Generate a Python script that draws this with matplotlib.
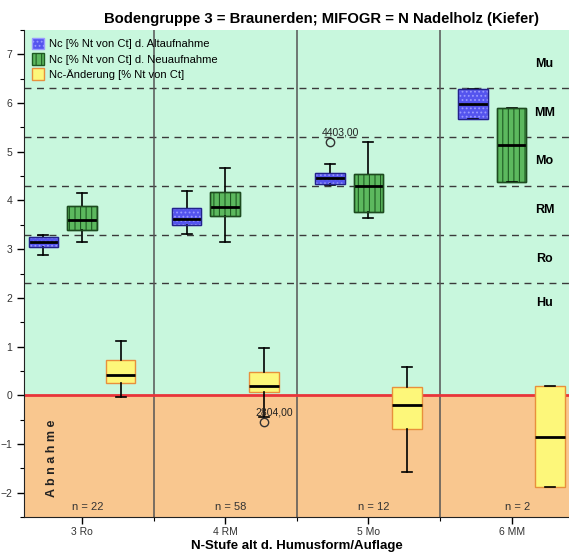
"""
Boxplots der Nc-Werte (Alt-/Neuaufnahme) und der Nc-Änderung
je N-Stufe der Humusform/Auflage, Bodengruppe 3 (Braunerden), Kiefer.
"""

import matplotlib
matplotlib.use("Agg")
import matplotlib.pyplot as plt
from matplotlib.patches import Patch, Polygon

plt.rcParams["font.family"] = ["Liberation Sans", "DejaVu Sans"]
plt.rcParams["hatch.linewidth"] = 0.8

# ── Daten ─────────────────────────────────────────────────────────────────────
categories = ["3 Ro", "4 RM", "5 Mo", "6 MM"]
n_counts   = [22, 58, 12, 2]

alt_whislo = [2.88, 3.31, 4.31, 5.68]
alt_q1     = [3.05, 3.50, 4.34, 5.68]
alt_med    = [3.15, 3.62, 4.46, 5.98]
alt_q3     = [3.24, 3.84, 4.57, 6.28]
alt_whishi = [3.29, 4.20, 4.74, 6.28]
alt_fliers = [[], [], [5.19], []]

neu_whislo = [3.15, 3.15, 3.63, 4.37]
neu_q1     = [3.40, 3.68, 3.77, 4.37]
neu_med    = [3.60, 3.87, 4.30, 5.13]
neu_q3     = [3.89, 4.17, 4.54, 5.89]
neu_whishi = [4.16, 4.66, 5.20, 5.89]
neu_fliers = [[], [], [], []]

chg_whislo = [-0.04, -0.45, -1.57, -1.88]
chg_q1     = [0.25, 0.06, -0.70, -1.88]
chg_med    = [0.41, 0.20, -0.20, -0.86]
chg_q3     = [0.73, 0.48, 0.16, 0.18]
chg_whishi = [1.12, 0.98, 0.57, 0.18]
chg_fliers = [[], [-0.55], [], []]

# Ausreißer-Beschriftungen: (Reihe, Kategorie, Wert, Text)
outlier_labels = [("alt", 2, 5.19, "4403,00"), ("chg", 1, -0.55, "2804,00")]

zone_names  = ["Mu", "MM", "Mo", "RM", "Ro", "Hu"]
zone_pos    = [6.8, 5.8, 4.8, 3.8, 2.8, 1.9]
zone_bounds = [6.3, 5.3, 4.3, 3.3, 2.3]

TITLE = "Bodengruppe 3 = Braunerden; MIFOGR = N Nadelholz (Kiefer)"
XLAB  = "N-Stufe alt d. Humusform/Auflage"
LEG   = ["Nc [% Nt von Ct] d. Altaufnahme",
         "Nc [% Nt von Ct] d. Neuaufnahme",
         "Nc-Änderung [% Nt von Ct]"]

# ── Stil ─────────────────────────────────────────────────────────────────────
GREEN_BG  = "#c8f7dd"
ORANGE_BG = "#f9c78f"
RED       = "#e8343a"
OFFSET, WIDTH = 0.269, 0.206

series = {
    "alt": dict(lo=alt_whislo, q1=alt_q1, med=alt_med, q3=alt_q3, hi=alt_whishi,
                fl=alt_fliers, off=-OFFSET, face="#5454ee", edge="#22228a",
                hatch="....", hcol="#9a9aff"),
    "neu": dict(lo=neu_whislo, q1=neu_q1, med=neu_med, q3=neu_q3, hi=neu_whishi,
                fl=neu_fliers, off=0.0, face="#5cb85e", edge="#1e4a20",
                hatch="|||", hcol="#1e5a22"),
    "chg": dict(lo=chg_whislo, q1=chg_q1, med=chg_med, q3=chg_q3, hi=chg_whishi,
                fl=chg_fliers, off=OFFSET, face="#fdf77a", edge="#e8903c",
                hatch=None, hcol=None),
}

fig = plt.figure(figsize=(5.69, 5.55), dpi=100)
ax = fig.add_axes([24 / 569, 1 - 517 / 555, 1 - 24 / 569, (517 - 30) / 555])
ax.set_xlim(-0.405, 3.40)
ax.set_ylim(-2.5, 7.5)

# Hintergrund
ax.axhspan(0, 7.5, color=GREEN_BG, zorder=0, lw=0)
ax.axhspan(-2.5, 0, color=ORANGE_BG, zorder=0, lw=0)
for b in zone_bounds:
    ax.axhline(b, color="#3a3a3a", lw=1.0, ls=(0, (5, 4)), zorder=1)
for s in (0.5, 1.5, 2.5):
    ax.axvline(s, color="#555555", lw=1.1, zorder=1)
ax.axhline(0, color=RED, lw=2.0, zorder=2)

# ── Boxplots ─────────────────────────────────────────────────────────────────
for key, d in series.items():
    stats = [dict(whislo=d["lo"][i], q1=d["q1"][i], med=d["med"][i],
                  q3=d["q3"][i], whishi=d["hi"][i], fliers=d["fl"][i])
             for i in range(len(categories))]
    pos = [i + d["off"] for i in range(len(categories))]
    bp = ax.bxp(stats, positions=pos, widths=WIDTH, patch_artist=True,
                capwidths=0.07, manage_ticks=False, zorder=3,
                boxprops=dict(facecolor=d["face"], edgecolor=d["edge"], lw=1.0),
                medianprops=dict(color="black", lw=2.0),
                whiskerprops=dict(color="black", lw=1.2),
                capprops=dict(color="black", lw=1.2),
                flierprops=dict(marker="o", markerfacecolor="none",
                                markeredgecolor="#333333", markersize=6))
    for box in bp["boxes"]:
        if d["hatch"]:
            box.set_hatch(d["hatch"])
            box.set_edgecolor(d["hcol"])
            ax.add_patch(Polygon(box.get_path().vertices, closed=True, fill=False,
                                 edgecolor=d["edge"], lw=1.0, zorder=3.1))

for key, ci, val, txt in outlier_labels:
    x = ci + series[key]["off"] + 0.075
    ax.text(x, val + 0.2, txt, fontsize=7.5, ha="center", va="center",
            color="#222222", zorder=5)

# ── Beschriftungen ──────────────────────────────────────────────────────────
for name, y in zip(zone_names, zone_pos):
    ax.text(3.23, y, name, fontsize=9, fontweight="bold", ha="center",
            va="center", zorder=4)

for i, n in enumerate(n_counts):
    ax.text(i + 0.04, -2.29, f"n = {n}", fontsize=8, ha="center", va="center",
            color="#333333", zorder=4)

ax.text(-0.21, -1.3, "A b n a h m e", rotation=90, fontsize=9,
        fontweight="bold", ha="center", va="center", color="#222222", zorder=4)

ax.set_xticks(range(len(categories)))
ax.set_xticklabels(categories)
ax.set_xticks([0.5, 1.5, 2.5], minor=True)
ax.set_yticks(range(-2, 8))
ax.set_yticks([v + 0.5 for v in range(-3, 8)], minor=True)
ax.tick_params(axis="both", which="major", labelsize=7.5, labelcolor="#333333",
               length=5, width=1.0)
ax.tick_params(axis="x", which="major", pad=2)
ax.tick_params(axis="both", which="minor", length=3, width=0.8)
for side in ("top", "right"):
    ax.spines[side].set_visible(False)
ax.spines["left"].set_color("#222222")
ax.spines["bottom"].set_color("#222222")

fig.text(297 / 569, 1 - 546 / 555, XLAB, fontsize=9.5, fontweight="bold",
         ha="center", va="center")
fig.text(322 / 569, 1 - 19 / 555, TITLE, fontsize=10.7, fontweight="bold",
         ha="center", va="center")

handles = [
    Patch(facecolor="#5454ee", edgecolor="#9a9aff", hatch="....", label=LEG[0]),
    Patch(facecolor="#5cb85e", edgecolor="#1e5a22", hatch="|||", label=LEG[1]),
    Patch(facecolor="#fdf77a", edgecolor="#e8903c", label=LEG[2]),
]
ax.legend(handles=handles, loc="upper left", frameon=False, fontsize=8,
          handlelength=1.1, handleheight=1.2, handletextpad=0.45,
          labelspacing=0.35, borderaxespad=0.3, bbox_to_anchor=(0.0, 1.0))

fig.savefig("out.png", dpi=100, facecolor="white")
